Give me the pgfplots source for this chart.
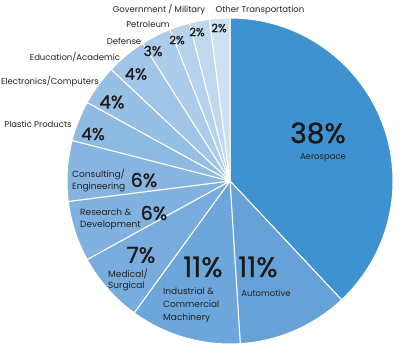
\documentclass[border=0pt]{standalone}
\usepackage{pgfplots}
\pgfplotsset{compat=1.18}
\usepackage{pgfplotstable}
\usepackage{fontspec}
\setmainfont{Poppins}
\newfontfamily\pctfont[FakeBold=1.2]{Poppins}
\definecolor{c1}{HTML}{3F92D0}
\definecolor{c2}{HTML}{66A2D8}
\definecolor{c3}{HTML}{6DA6DA}
\definecolor{c4}{HTML}{78ACDD}
\definecolor{c5}{HTML}{80B1DF}
\definecolor{c6}{HTML}{87B5E0}
\definecolor{c7}{HTML}{8EBAE2}
\definecolor{c8}{HTML}{96BFE4}
\definecolor{c9}{HTML}{A1C5E7}
\definecolor{c10}{HTML}{ACCCEA}
\definecolor{c11}{HTML}{B6D2EC}
\definecolor{c12}{HTML}{C1D9EF}
\definecolor{c13}{HTML}{CEE1F3}
\definecolor{txt}{HTML}{1A1A1A}
\definecolor{lbl}{HTML}{222222}
\pgfplotstableread{
pct col
38 c1
11 c2
11 c3
7 c4
6 c5
6 c6
4 c7
4 c8
4 c9
3 c10
2 c11
2 c12
2 c13
}\piedata
\begin{document}
\begin{tikzpicture}
\begin{axis}[
  width=402pt, height=353pt, scale only axis,
  xmin=0, xmax=402, ymin=0, ymax=353, y dir=reverse,
  hide axis, clip=false,
]
\path (axis cs:0,0) (axis cs:402,353);
\def\cum{0}
\pgfplotsforeachungrouped \i in {0,...,12}{%
  \pgfplotstablegetelem{\i}{pct}\of\piedata \let\p=\pgfplotsretval
  \pgfplotstablegetelem{\i}{col}\of\piedata \let\c=\pgfplotsretval
  \pgfmathsetmacro\a{90-3.6*\cum}%
  \pgfmathsetmacro\b{90-3.6*(\cum+\p)}%
  \pgfmathsetmacro\cum{\cum+\p}%
  \xdef\cum{\cum}%
  \edef\temp{\noexpand\fill[\c, draw=white, line width=1pt, line join=round] (axis cs:230,181) -- ++(\a:163pt) arc[start angle=\a, end angle=\b, radius=163pt] -- cycle;}%
  \temp
}
\tikzset{pc/.style={text=txt, inner sep=0pt}, lb/.style={text=lbl, inner sep=0pt, align=left}}
\node[pc, font=\fontsize{28}{28}\selectfont\pctfont] at (axis cs:318,133) {38\%};
\node[lb, font=\fontsize{8.5}{10}\selectfont] at (axis cs:323,158) {Aerospace};
\node[pc, font=\fontsize{28}{28}\selectfont\pctfont] at (axis cs:258,267) {11\%};
\node[lb, font=\fontsize{8.5}{10}\selectfont] at (axis cs:266,293) {Automotive};
\node[pc, font=\fontsize{28}{28}\selectfont\pctfont] at (axis cs:203,267) {11\%};
\node[lb, font=\fontsize{9}{13.2}\selectfont, anchor=north west] at (axis cs:163,287) {Industrial \&\\Commercial\\Machinery};
\node[pc, font=\fontsize{22}{22}\selectfont\pctfont] at (axis cs:141,255) {7\%};
\node[lb, font=\fontsize{9}{11}\selectfont, anchor=north west] at (axis cs:108,269) {Medical/\\Surgical};
\node[pc, font=\fontsize{19}{19}\selectfont\pctfont] at (axis cs:154,213) {6\%};
\node[lb, font=\fontsize{9}{12}\selectfont, anchor=north west] at (axis cs:80,209) {Research \&\\Development};
\node[pc, font=\fontsize{19}{19}\selectfont\pctfont] at (axis cs:144,180) {6\%};
\node[lb, font=\fontsize{9}{12}\selectfont, anchor=north west] at (axis cs:72,169) {Consulting/\\Engineering};
\node[pc, font=\fontsize{17}{17}\selectfont\pctfont] at (axis cs:93,134) {4\%};
\node[lb, font=\fontsize{8.5}{10}\selectfont] at (axis cs:38,124) {Plastic Products};
\node[pc, font=\fontsize{18}{18}\selectfont\pctfont] at (axis cs:112,102) {4\%};
\node[lb, font=\fontsize{8.5}{10}\selectfont] at (axis cs:50,82) {Electronics/Computers};
\node[pc, font=\fontsize{16}{16}\selectfont\pctfont] at (axis cs:136,74) {4\%};
\node[lb, font=\fontsize{8.5}{10}\selectfont] at (axis cs:75,57) {Education/Academic};
\node[pc, font=\fontsize{14}{14}\selectfont\pctfont] at (axis cs:153,51) {3\%};
\node[lb, font=\fontsize{8.5}{10}\selectfont] at (axis cs:124,41) {Defense};
\node[pc, font=\fontsize{11.5}{12}\selectfont\pctfont] at (axis cs:177,40) {2\%};
\node[lb, font=\fontsize{8.5}{10}\selectfont] at (axis cs:148,24) {Petroleum};
\node[pc, font=\fontsize{11.5}{12}\selectfont\pctfont] at (axis cs:197,32) {2\%};
\node[lb, font=\fontsize{8.5}{10}\selectfont] at (axis cs:159,10) {Government / Military};
\node[pc, font=\fontsize{11.5}{12}\selectfont\pctfont] at (axis cs:219,28) {2\%};
\node[lb, font=\fontsize{8.5}{10}\selectfont] at (axis cs:260,10) {Other Transportation};
\end{axis}
\end{tikzpicture}
\end{document}
